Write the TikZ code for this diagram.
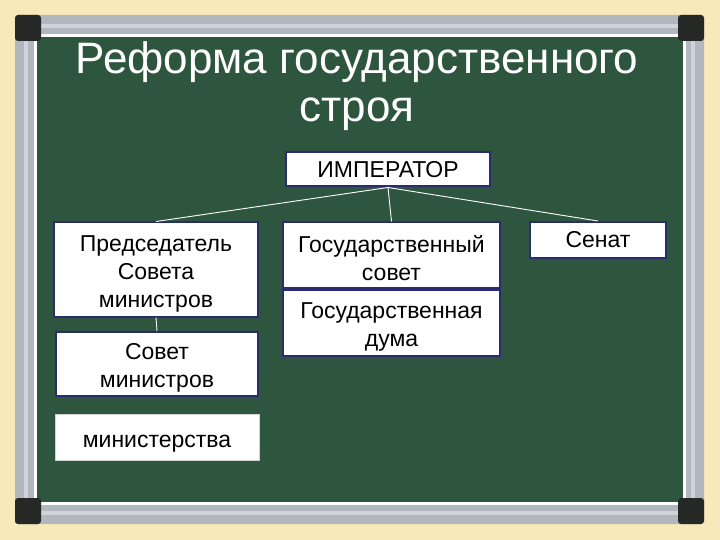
\documentclass[tikz,border=0pt]{standalone}
\usepackage{fontspec}
\setmainfont{Liberation Sans}
\definecolor{paper}{RGB}{246,233,186}
\definecolor{board}{RGB}{46,86,62}
\definecolor{rail}{RGB}{178,182,190}
\definecolor{railhi}{RGB}{208,211,216}
\definecolor{corner}{RGB}{38,40,38}
\definecolor{boxline}{RGB}{42,44,112}
\newcommand{\toprow}{\rule{0pt}{24pt}}
\tikzset{
  unit/.style={draw=boxline, line width=2pt, fill=white, inner sep=0pt, align=center,
    font=\fontsize{23}{28}\selectfont},
  plain/.style={unit, draw=gray!35, line width=1pt},
  link/.style={white, line width=0.9pt}
}
\begin{document}
\begin{tikzpicture}[x=1pt,y=-1pt]
\useasboundingbox (0,0) rectangle (720,540);
\fill[paper] (0,0) rectangle (720,540);
\fill[rail, rounded corners=3pt] (15,15) rectangle (704,524);
\fill[railhi] (24,24) rectangle (695,515);
\fill[rail] (28,28) rectangle (691,511);
\fill[white] (34,34) rectangle (686,505);
\fill[board] (37,37) rectangle (683,502);
\fill[corner, rounded corners=3pt] (15,15) rectangle (41,41);
\fill[corner, rounded corners=3pt] (678,15) rectangle (704,41);
\fill[corner, rounded corners=3pt] (15,498) rectangle (41,524);
\fill[corner, rounded corners=3pt] (678,498) rectangle (704,524);
\node[white, align=center, font=\fontsize{44}{48}\selectfont] (title) at (357,86.5)
  {Реформа государственного\\строя};
\node[unit, minimum width=204pt, minimum height=34pt] (imp) at (388,169.5) {ИМПЕРАТОР};
\node[unit, minimum width=204pt, minimum height=94pt] (pred) at (156,269.5) {\toprow Председатель\\Совета\\министров};
\node[unit, minimum width=202pt, minimum height=64pt] (sovmin) at (157,364) {\toprow Совет\\министров};
\node[plain, minimum width=204pt, minimum height=46pt] (minist) at (157,437) {\rule{0pt}{26pt}министерства};
\node[unit, minimum width=217pt, minimum height=65pt] (gossov) at (391.5,255) {\toprow Государственный\\совет};
\node[unit, minimum width=217pt, minimum height=66pt] (duma) at (391.5,322.5) {\toprow Государственная\\дума};
\node[unit, minimum width=136pt, minimum height=36pt] (senat) at (598,240) {Сенат};
\draw[link] (imp.south) -- (pred.north);
\draw[link] (imp.south) -- (gossov.north);
\draw[link] (imp.south) -- (senat.north);
\draw[link] (pred.south) -- (sovmin.north);
\end{tikzpicture}
\end{document}
